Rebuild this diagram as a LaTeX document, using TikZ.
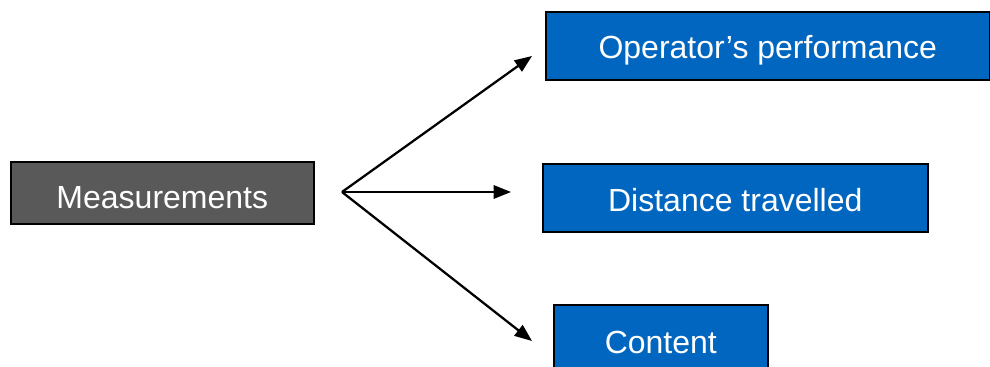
\documentclass[tikz,border=0pt]{standalone}
\usepackage{fontspec}
\setmainfont{Liberation Sans}
\usetikzlibrary{arrows.meta}
\definecolor{boxgray}{RGB}{89,89,89}
\definecolor{boxblue}{RGB}{0,102,191}
\tikzset{
  box/.style={draw=black, line width=1.2pt, text=white, font=\fontsize{24}{29}\selectfont,
    inner sep=0pt, anchor=north west, text depth=0pt, text height=17.2pt},
  grey box/.style={box, fill=boxgray},
  blue box/.style={box, fill=boxblue},
  link/.style={line width=1.7pt, -{Triangle[length=13pt,width=10pt]}}
}
\begin{document}
\begin{tikzpicture}[x=0.75pt, y=-0.75pt]
  \clip (0,0) rectangle (990,367);
  \fill[white] (0,0) rectangle (990,367);

  % source box (text sits a little below the middle)
  \node[grey box, text height=23.2pt, minimum width=303*0.75pt, minimum height=62*0.75pt] (meas) at (10,161) {Measurements};

  % target boxes
  \node[blue box, text height=18.7pt, minimum width=444*0.75pt, minimum height=68*0.75pt] (oper) at (545,11) {Operator’s performance};
  \node[blue box, text height=20.2pt, minimum width=385*0.75pt, minimum height=68*0.75pt] (dist) at (542,163) {Distance travelled};
  \node[blue box, minimum width=214*0.75pt, minimum height=74*0.75pt] (cont) at (553,304) {Content};

  % fan of arrows
  \coordinate (hub) at (342,192);
  \coordinate (toOper) at (532,56);
  \coordinate (toDist) at (511,192);
  \coordinate (toCont) at (532,341);
  \draw[link] (hub) -- (toOper);
  \draw[link] (hub) -- (toDist);
  \draw[link] (hub) -- (toCont);
\end{tikzpicture}
\end{document}
